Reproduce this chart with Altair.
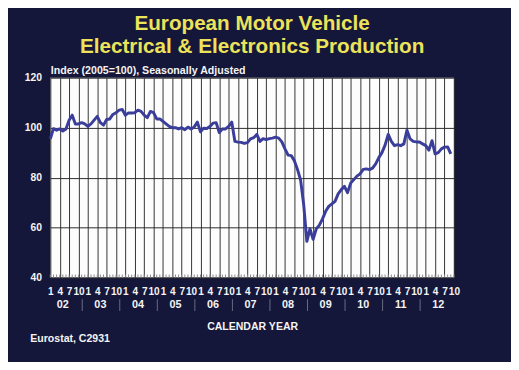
import altair as alt
import pandas as pd

# Monthly index values, Jan 2002 (month 0) .. Sep 2012 (month 128)
index_values = [
    95.5, 99.6, 99.0, 99.5, 98.7, 99.5, 103.0, 105.0, 101.5, 101.5, 102.0, 101.5,   # 2002
    100.5, 101.5, 103.0, 104.5, 102.0, 101.0, 103.3, 103.5, 105.3, 106.0, 107.0, 107.3,  # 2003
    105.0, 105.9, 105.9, 106.0, 107.0, 106.5, 105.0, 104.0, 106.5, 106.0, 103.5, 103.5,  # 2004
    102.5, 101.5, 100.5, 100.0, 100.0, 99.5, 100.0, 99.2, 100.2, 99.5, 100.3, 102.2,    # 2005
    98.3, 99.8, 99.7, 100.5, 101.8, 102.0, 98.0, 99.5, 99.5, 100.5, 102.2, 94.5,        # 2006
    94.2, 94.1, 93.7, 94.0, 95.5, 96.0, 97.3, 94.5, 95.6, 95.2, 95.6, 95.8,             # 2007
    96.2, 95.8, 94.3, 91.5, 89.0, 88.8, 86.8, 83.3, 79.0, 69.0, 54.5, 59.5,             # 2008
    55.3, 59.5, 61.0, 63.5, 66.5, 68.5, 69.5, 70.5, 73.5, 75.2, 76.5, 74.0,             # 2009
    77.8, 79.2, 80.6, 81.5, 83.3, 83.5, 83.2, 83.8, 85.5, 88.0, 90.0, 93.0,             # 2010
    97.3, 94.5, 92.8, 93.2, 92.8, 93.5, 99.0, 95.5, 94.5, 94.3, 94.3, 93.5,             # 2011
    92.8, 91.0, 94.8, 89.5, 90.0, 91.5, 92.2, 92.3, 89.5,                               # 2012
]
months = list(range(len(index_values)))
month_ticks = list(range(0, 130))
quarter_ticks = list(range(0, 130, 3))
year_labels = ["02", "03", "04", "05", "06", "07", "08", "09", "10", "11", "12"]
y_ticks = [40, 60, 80, 100, 120]

W, H = 410, 203
BG = "#15173a"
FONT = "Liberation Sans"
WHITE = "#f4f4f4"

df = pd.DataFrame({"m": months, "v": index_values})
ticks_df = pd.DataFrame({"m": month_ticks})
years_df = pd.DataFrame({"m": [12 * i + 4 for i in range(len(year_labels))],
                         "lab": year_labels})
seps_df = pd.DataFrame({"m": [12 * i + 10.2 for i in range(len(year_labels) - 1)]})
note_df = pd.DataFrame({"t": ["Eurostat, C2931"]})

xs = alt.Scale(domain=[0, 129], nice=False, zero=False)
ys = alt.Scale(domain=[40, 120], nice=False, zero=False)

x_axis = alt.Axis(
    values=quarter_ticks, labelExpr="(datum.value % 12) + 1",
    labelOverlap=False, labelFlush=False, labelBound=False,
    labelFont=FONT, labelFontWeight="bold", labelFontSize=10.2, labelColor=WHITE,
    labelPadding=9.5, ticks=False, domain=False,
    grid=True, gridColor="#333333", gridWidth=1,
    title="CALENDAR YEAR", titleFont=FONT, titleFontWeight="bold", titleFontSize=10.7,
    titleColor=WHITE, titleBaseline="middle", titleY=50)

y_axis = alt.Axis(
    values=y_ticks, labelFont=FONT, labelFontWeight="bold", labelFontSize=10.5,
    labelColor=WHITE, labelPadding=9, ticks=False, domain=False,
    grid=True, gridColor="#2a2a2a", gridWidth=1,
    title="Index (2005=100), Seasonally Adjusted", titleAngle=0, titleAlign="left",
    titleBaseline="alphabetic", titleX=0, titleY=-4.5, titleFont=FONT,
    titleFontWeight="bold", titleFontSize=10.8, titleColor=WHITE)

line = alt.Chart(df).mark_line(color="#3a3e9a", strokeWidth=3, strokeJoin="round").encode(
    x=alt.X("m:Q", scale=xs, axis=x_axis),
    y=alt.Y("v:Q", scale=ys, axis=y_axis),
)

mticks = alt.Chart(ticks_df).mark_rule(color="#8a8a8a", strokeWidth=1).encode(
    x=alt.X("m:Q", scale=xs, axis=x_axis),
    y=alt.datum(40, scale=ys, axis=y_axis),
    y2=alt.datum(41.2),
)

years = alt.Chart(years_df).mark_text(
    font=FONT, fontWeight="bold", fontSize=11, color=WHITE, baseline="middle", align="center"
).encode(
    x=alt.X("m:Q", scale=xs, axis=x_axis),
    y=alt.value(H + 28),
    text="lab:N",
)

seps = alt.Chart(seps_df).mark_rule(color="#6a6c84", strokeWidth=1).encode(
    x=alt.X("m:Q", scale=xs, axis=x_axis),
    y=alt.value(H + 22),
    y2=alt.value(H + 34),
)

note = alt.Chart(note_df).mark_text(
    font=FONT, fontWeight="bold", fontSize=10.7, color=WHITE, align="left", baseline="middle"
).encode(x=alt.value(-20.3), y=alt.value(H + 63), text="t:N")

chart = alt.layer(line, mticks, years, seps, note).properties(
    width=W, height=H,
    title=alt.TitleParams(
        ["European Motor Vehicle", "Electrical & Electronics Production"],
        font=FONT, fontWeight="bold", fontSize=21, lineHeight=23, color="#ece35a",
        anchor="middle", frame="group", offset=8,
    ),
    autosize=alt.AutoSizeParams(type="none"),
    padding={"left": 43, "top": 68, "right": 58, "bottom": 83},
).configure(background=BG).configure_view(fill="#fdfdfd", stroke=None)

chart.save("out.html", embed_options={"renderer": "svg", "actions": False})
